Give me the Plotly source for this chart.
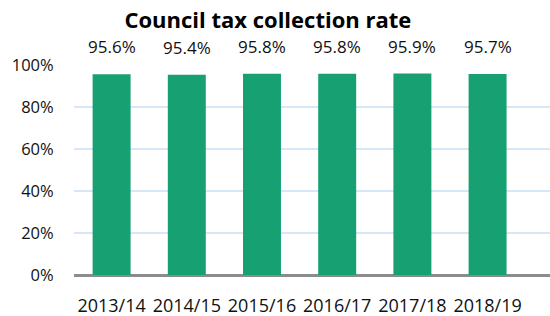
import plotly.graph_objects as go

categories = ["2013/14", "2014/15", "2015/16", "2016/17", "2017/18", "2018/19"]
rates = [95.6, 95.4, 95.8, 95.8, 95.9, 95.7]
labels = ["95.6%", "95.4%", "95.8%", "95.8%", "95.9%", "95.7%"]
y_ticks = [0, 20, 40, 60, 80, 100]
y_tick_labels = ["0%", "20%", "40%", "60%", "80%", "100%"]

FONT = "Open Sans"

fig = go.Figure()
fig.add_trace(go.Bar(
    x=list(range(len(categories))),
    y=rates,
    marker=dict(color="#17a172", line=dict(width=0)),
    width=0.505,
    hoverinfo="skip",
))

for i, (v, t) in enumerate(zip(rates, labels)):
    fig.add_annotation(x=i, y=v, text=t, showarrow=False, xanchor="center",
                       yanchor="bottom", yshift=14,
                       font=dict(family=FONT, size=17, color="#111111"))

fig.update_layout(
    width=550, height=316,
    margin=dict(l=74, r=0, t=65, b=41),
    paper_bgcolor="white", plot_bgcolor="white",
    showlegend=False,
    title=dict(text="<b>Council tax collection rate</b>", x=0.487, xanchor="center",
               y=0.935, yanchor="middle",
               font=dict(family=FONT, size=22, color="#000000")),
    xaxis=dict(
        range=[-0.5, 5.83],
        tickmode="array", tickvals=list(range(len(categories))), ticktext=categories,
        tickfont=dict(family=FONT, size=18, color="#111111"),
        showgrid=False, zeroline=False,
        showline=False,
        ticks="outside", ticklen=14, tickcolor="rgba(0,0,0,0)",
    ),
    yaxis=dict(
        range=[0, 100],
        tickmode="array", tickvals=y_ticks, ticktext=y_tick_labels,
        tickfont=dict(family=FONT, size=16.5, color="#111111"),
        showgrid=True, gridcolor="#d6e8f8", gridwidth=2,
        zeroline=True, zerolinecolor="#8c8c8c", zerolinewidth=3,
        ticks="outside", ticklen=16, tickcolor="rgba(0,0,0,0)",
    ),
)

fig.write_html("out.html", config={"displayModeBar": False},
               post_script="document.body.style.margin='0';")
